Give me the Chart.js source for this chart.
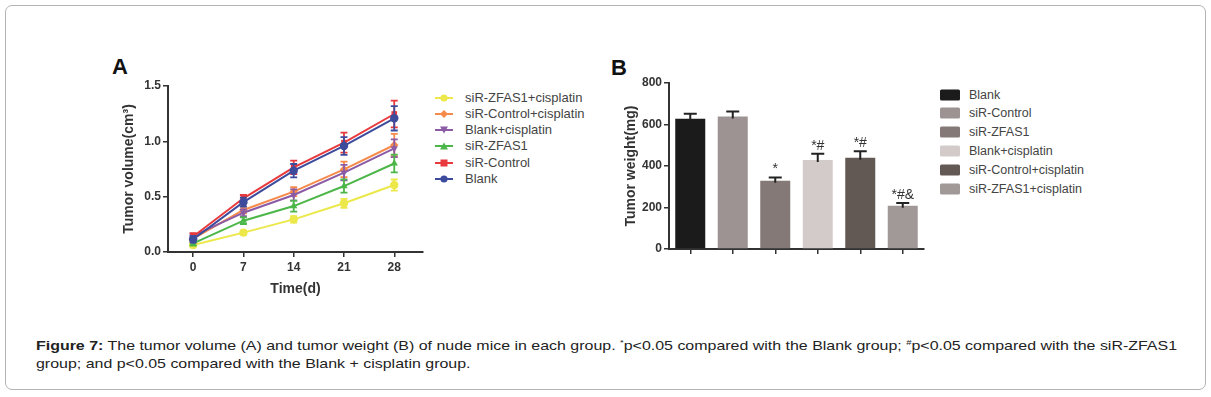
<!DOCTYPE html>
<html><head><meta charset="utf-8">
<script src="https://cdn.jsdelivr.net/npm/chart.js@4"></script>
<style>
html,body{margin:0;padding:0;background:#fff;width:1211px;height:397px;overflow:hidden;font-family:"Liberation Sans",Arial,sans-serif;}
#frame{position:absolute;left:5px;top:5px;width:1201px;height:385px;box-sizing:border-box;border:1.5px solid #b4b4b4;border-radius:7px;}
.panel{position:absolute;font-weight:bold;font-size:22px;line-height:22px;color:#111;}
canvas{position:absolute;}
.lrow{position:absolute;height:16px;line-height:16px;color:#444;white-space:nowrap;}
.lrow svg{position:absolute;left:0;top:2px;}
.lrow span{position:absolute;top:0;}
.cap{position:absolute;left:36px;font-size:13.5px;line-height:16px;color:#222;white-space:nowrap;transform-origin:0 0;}
.cap sup{font-size:8px;vertical-align:5px;line-height:0;}
</style></head>
<body>
<div id="frame"></div>
<div class="panel" style="left:112px;top:56px;">A</div>
<div class="panel" style="left:611px;top:57px;">B</div>
<canvas id="chartA" width="330" height="260" style="left:100px;top:50px;"></canvas>
<canvas id="chartB" width="330" height="220" style="left:600px;top:50px;"></canvas>
<div id="legendA"></div>
<div id="legendB"></div>
<div class="cap" id="cap1" style="top:338px;"><b>Figure 7:</b> The tumor volume (A) and tumor weight (B) of nude mice in each group. <sup>*</sup>p&lt;0.05 compared with the Blank group; <sup>#</sup>p&lt;0.05 compared with the siR-ZFAS1</div>
<div class="cap" id="cap2" style="top:356px;">group; and p&lt;0.05 compared with the Blank + cisplatin group.</div>
<script>
// ---------- Data ----------
const days = [0, 7, 14, 21, 28];
const volumeTicks = [0, 0.5, 1.0, 1.5];
const lineGroups = ['siR-ZFAS1+cisplatin', 'siR-Control+cisplatin', 'Blank+cisplatin', 'siR-ZFAS1', 'siR-Control', 'Blank'];
const volZfasCis   = [0.063, 0.175, 0.295, 0.440, 0.605];
const volCtrlCis   = [0.120, 0.380, 0.545, 0.747, 0.967];
const volBlankCis  = [0.145, 0.355, 0.515, 0.717, 0.937];
const volZfas      = [0.078, 0.283, 0.415, 0.596, 0.800];
const volCtrl      = [0.140, 0.485, 0.765, 0.988, 1.247];
const volBlank     = [0.115, 0.450, 0.735, 0.958, 1.208];
const errZfasCis   = [0.02, 0.02, 0.03, 0.04, 0.05];
const errCtrlCis   = [0.02, 0.03, 0.04, 0.07, 0.10];
const errBlankCis  = [0.02, 0.03, 0.05, 0.07, 0.08];
const errZfas      = [0.02, 0.03, 0.05, 0.06, 0.08];
const errCtrl      = [0.03, 0.03, 0.06, 0.09, 0.12];
const errBlank     = [0.03, 0.04, 0.06, 0.08, 0.11];

const weightGroups = ['Blank', 'siR-Control', 'siR-ZFAS1', 'Blank+cisplatin', 'siR-Control+cisplatin', 'siR-ZFAS1+cisplatin'];
const weightMean   = [628, 639, 329, 429, 440, 209];
const weightErr    = [24, 24, 15, 30, 31, 13];
const weightMarks  = ['', '', '*', '*#', '*#', '*#&'];
const weightTicks  = [0, 200, 400, 600, 800];

// ---------- Styles ----------
const FONT = '"Liberation Sans", Arial, sans-serif';
const lineStyle = {
  'siR-ZFAS1+cisplatin':   {color: '#ece84a', point: 'circle',    rot: 0},
  'siR-Control+cisplatin': {color: '#f58a4b', point: 'rectRot',   rot: 0},
  'Blank+cisplatin':       {color: '#8b5ba6', point: 'triangle',  rot: 180},
  'siR-ZFAS1':             {color: '#4cb649', point: 'triangle',  rot: 0},
  'siR-Control':           {color: '#e8393c', point: 'rect',      rot: 0},
  'Blank':                 {color: '#3d4b9c', point: 'circle',    rot: 0}
};
const barColors = ['#1b1b1b', '#9c9392', '#847977', '#d3cbca', '#625955', '#a19998'];

const volumeSeries = {
  'siR-ZFAS1+cisplatin': [volZfasCis, errZfasCis],
  'siR-Control+cisplatin': [volCtrlCis, errCtrlCis],
  'Blank+cisplatin': [volBlankCis, errBlankCis],
  'siR-ZFAS1': [volZfas, errZfas],
  'siR-Control': [volCtrl, errCtrl],
  'Blank': [volBlank, errBlank]
};

// ---------- Plugins ----------
const errorBarPlugin = {
  id: 'errorBars',
  afterDatasetDraw(chart, args) {
    const ds = chart.data.datasets[args.index];
    if (!ds.errors) return;
    const ys = chart.scales.y, ctx = chart.ctx;
    ctx.save();
    ctx.strokeStyle = ds.errorColor || ds.borderColor;
    ctx.lineWidth = ds.errorWidth || 1.5;
    args.meta.data.forEach((el, i) => {
      const raw = ds.data[i];
      const v = (typeof raw === 'object') ? raw.y : raw;
      const e = ds.errors[i];
      const x = el.x;
      const yTop = ys.getPixelForValue(v + e);
      const yBot = ds.upperOnly ? ys.getPixelForValue(v) + 2 : ys.getPixelForValue(v - e);
      const c = ds.capWidth / 2;
      ctx.beginPath();
      ctx.moveTo(x, yTop); ctx.lineTo(x, yBot);
      ctx.moveTo(x - c, yTop); ctx.lineTo(x + c, yTop);
      if (!ds.upperOnly) { ctx.moveTo(x - c, yBot); ctx.lineTo(x + c, yBot); }
      ctx.stroke();
    });
    ctx.restore();
  }
};
const markPlugin = {
  id: 'marks',
  afterDatasetsDraw(chart) {
    const meta = chart.getDatasetMeta(0), ys = chart.scales.y, ctx = chart.ctx;
    ctx.save();
    ctx.font = '14px ' + FONT;
    ctx.fillStyle = '#333';
    ctx.textAlign = 'center';
    ctx.textBaseline = 'bottom';
    meta.data.forEach((el, i) => {
      const t = weightMarks[i];
      if (!t) return;
      ctx.fillText(t, el.x, ys.getPixelForValue(weightMean[i] + weightErr[i]) - 1);
    });
    ctx.restore();
  }
};

function axisCommon() {
  return {
    grid: {display: true, drawOnChartArea: false, drawTicks: true, tickLength: 5, color: '#333', lineWidth: 1.5},
    border: {display: true, color: '#333', width: 2},
    ticks: {color: '#333', font: {family: FONT, size: 12, weight: 'bold'}, maxRotation: 0, autoSkip: false}
  };
}

// ---------- Chart A ----------
const orderA = ['Blank', 'siR-Control', 'siR-ZFAS1', 'Blank+cisplatin', 'siR-Control+cisplatin', 'siR-ZFAS1+cisplatin'];
const dsA = orderA.map(name => {
  const st = lineStyle[name];
  const [vals, errs] = volumeSeries[name];
  return {
    label: name,
    data: days.map((d, i) => ({x: d, y: vals[i]})),
    errors: errs,
    capWidth: 7,
    errorWidth: 1.8,
    borderColor: st.color,
    backgroundColor: st.color,
    borderWidth: 2,
    pointStyle: st.point,
    rotation: st.rot,
    pointRadius: st.point === 'rect' ? 4 : 4.2,
    pointBorderWidth: 0,
    tension: 0,
    clip: false
  };
});

const xA = axisCommon();
const yA = axisCommon();
new Chart(document.getElementById('chartA'), {
  type: 'line',
  data: {datasets: dsA},
  plugins: [errorBarPlugin],
  options: {
    responsive: false, animation: false, devicePixelRatio: 1,
    layout: {padding: {left: 0, right: 7, top: 36, bottom: 0}},
    plugins: {legend: {display: false}, tooltip: {enabled: false}},
    scales: {
      x: Object.assign(xA, {
        type: 'linear', min: -3.5, max: 32,
        afterBuildTicks: s => { s.ticks = days.map(v => ({value: v})); },
        afterFit: s => { s.height = 58; },
        ticks: Object.assign(xA.ticks, {padding: 3, callback: v => String(v)}),
        title: {display: true, text: 'Time(d)', color: '#333', font: {family: FONT, size: 14, weight: 'bold'}, padding: {top: 0, bottom: 12}}
      }),
      y: Object.assign(yA, {
        type: 'linear', min: 0, max: 1.5,
        afterBuildTicks: s => { s.ticks = volumeTicks.map(v => ({value: v})); },
        afterFit: s => { s.width = 68; },
        ticks: Object.assign(yA.ticks, {padding: 2, callback: v => Number(v).toFixed(1)}),
        title: {display: true, text: 'Tumor volume(cm³)', color: '#333', font: {family: FONT, size: 14, weight: 'bold'}, padding: {top: 21, bottom: 0}}
      })
    }
  }
});

// ---------- Chart B ----------
const xB = axisCommon();
const yB = axisCommon();
new Chart(document.getElementById('chartB'), {
  type: 'bar',
  data: {
    labels: weightGroups,
    datasets: [{
      label: 'Tumor weight',
      data: weightMean,
      errors: weightErr,
      upperOnly: true,
      capWidth: 13,
      errorColor: '#222',
      errorWidth: 2,
      backgroundColor: barColors,
      borderWidth: 0,
      barPercentage: 0.706,
      categoryPercentage: 1
    }]
  },
  plugins: [errorBarPlugin, markPlugin],
  options: {
    responsive: false, animation: false, devicePixelRatio: 1,
    layout: {padding: {left: 0, right: 6, top: 33, bottom: 0}},
    plugins: {legend: {display: false}, tooltip: {enabled: false}},
    scales: {
      x: Object.assign(xB, {
        type: 'category', offset: true,
        grid: Object.assign(xB.grid, {offset: false}),
        afterFit: s => { s.height = 21; },
        ticks: Object.assign(xB.ticks, {display: false})
      }),
      y: Object.assign(yB, {
        type: 'linear', min: 0, max: 800,
        afterBuildTicks: s => { s.ticks = weightTicks.map(v => ({value: v})); },
        afterFit: s => { s.width = 69; },
        ticks: Object.assign(yB.ticks, {padding: 2}),
        title: {display: true, text: 'Tumor weight(mg)', color: '#333', font: {family: FONT, size: 14, weight: 'bold'}, padding: {top: 23, bottom: 0}}
      })
    }
  }
});

// ---------- HTML legends ----------
function markerSvg(name) {
  const st = lineStyle[name], c = st.color;
  let shape = '';
  if (st.point === 'circle') shape = `<circle cx="10" cy="6" r="3.6" fill="${c}"/>`;
  else if (st.point === 'rect') shape = `<rect x="6.5" y="2.5" width="7" height="7" fill="${c}"/>`;
  else if (st.point === 'rectRot') shape = `<polygon points="10,2 14,6 10,10 6,6" fill="${c}"/>`;
  else if (st.point === 'triangle' && st.rot === 180) shape = `<polygon points="6,2.5 14,2.5 10,9.5" fill="${c}"/>`;
  else shape = `<polygon points="6,9.5 14,9.5 10,2.5" fill="${c}"/>`;
  return `<svg width="20" height="12"><line x1="1" y1="6" x2="19" y2="6" stroke="${c}" stroke-width="2"/>${shape}</svg>`;
}
const legA = document.getElementById('legendA');
lineGroups.forEach((name, i) => {
  const cy = 97.5 + i * 16.3;
  const d = document.createElement('div');
  d.className = 'lrow';
  d.style.cssText = `left:434px;top:${cy - 8}px;font-size:13px;`;
  d.innerHTML = markerSvg(name) + `<span style="left:31px">${name}</span>`;
  legA.appendChild(d);
});
const legB = document.getElementById('legendB');
weightGroups.forEach((name, i) => {
  const cy = 94.5 + i * 18.9;
  const d = document.createElement('div');
  d.className = 'lrow';
  d.style.cssText = `left:940px;top:${cy - 8}px;font-size:12.5px;`;
  d.innerHTML = `<svg width="20" height="12"><rect x="0" y="0.5" width="20" height="11" rx="1.5" fill="${barColors[i]}"/></svg><span style="left:29px">${name}</span>`;
  legB.appendChild(d);
});

// caption width fit
const c1 = document.getElementById('cap1'), c2 = document.getElementById('cap2');
const sc = 1141 / c1.getBoundingClientRect().width;
c1.style.transform = `scaleX(${sc})`;
c2.style.transform = `scaleX(${sc})`;
</script>
</body></html>
